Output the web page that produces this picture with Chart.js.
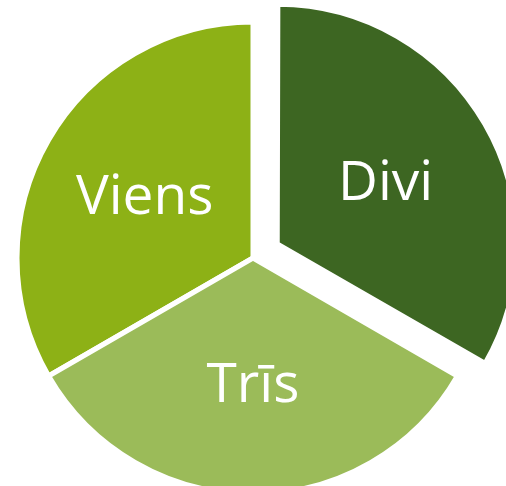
<!DOCTYPE html>
<html>
<head>
<meta charset="utf-8">
<script src="https://cdn.jsdelivr.net/npm/chart.js@4/dist/chart.umd.min.js"></script>
<style>
  html, body { margin: 0; padding: 0; background: #ffffff; }
  #wrap { width: 506px; height: 486px; }
</style>
</head>
<body>
<div id="wrap"><canvas id="pie" width="506" height="486"></canvas></div>
<script>
const sliceLabels = ['Viens', 'Divi', 'Trīs'];
const sliceValues = [1, 1, 1];
const sliceColors = ['#8db116', '#3d6622', '#9bbb59'];
const sliceOffsets = [0, 112, 0];

// draws the category name inside each slice, like the data labels in the original
const sliceNamePlugin = {
  id: 'sliceNames',
  afterDatasetsDraw(chart) {
    const { ctx } = chart;
    const meta = chart.getDatasetMeta(0);
    ctx.save();
    ctx.fillStyle = '#ffffff';
    ctx.font = '55px "Open Sans", sans-serif';
    ctx.textAlign = 'center';
    ctx.textBaseline = 'middle';
    meta.data.forEach((arc, index) => {
      const { x, y, startAngle, endAngle, outerRadius } = arc.getProps(['x', 'y', 'startAngle', 'endAngle', 'outerRadius'], true);
      const mid = (startAngle + endAngle) / 2;
      const shift = (arc.options.offset || 0) / 4;
      const dist = outerRadius * 0.53;
      const px = x + Math.cos(mid) * (dist + shift);
      const py = y + Math.sin(mid) * (dist + shift) + 3;
      ctx.fillText(chart.data.labels[index], px, py);
    });
    ctx.restore();
  }
};

new Chart(document.getElementById('pie'), {
  type: 'pie',
  data: {
    labels: sliceLabels,
    datasets: [
      {
        data: sliceValues,
        backgroundColor: sliceColors,
        borderColor: '#ffffff',
        borderWidth: 5,
        offset: sliceOffsets
      }
    ]
  },
  options: {
    responsive: false,
    animation: false,
    rotation: 240,
    radius: 236,
    layout: { padding: { top: 30, bottom: 0, left: 0, right: 0 } },
    plugins: {
      legend: { display: false },
      tooltip: { enabled: false }
    },
    events: []
  },
  plugins: [sliceNamePlugin]
});
</script>
</body>
</html>
